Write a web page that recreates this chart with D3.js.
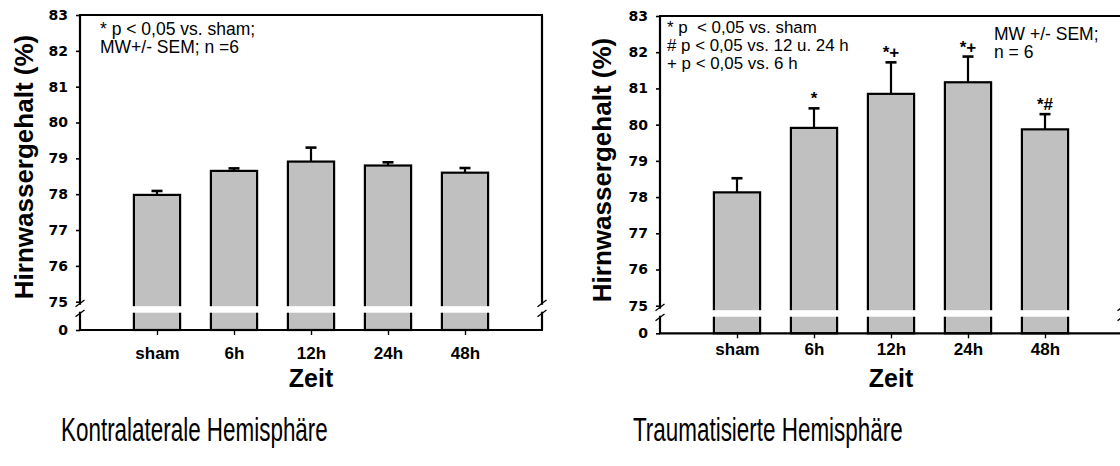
<!DOCTYPE html>
<html><head><meta charset="utf-8">
<script src="https://cdn.jsdelivr.net/npm/d3@7"></script>
<style>
body{margin:0;background:#fff}
svg{display:block}
text{font-family:"Liberation Sans",Arial,sans-serif;fill:#000;white-space:pre}
</style>
</head><body><svg id="c" width="1120" height="466"></svg>
<script>
// ---- data ----
const categories = ["sham", "6h", "12h", "24h", "48h"];
const contraMean = [77.98, 78.65, 78.91, 78.80, 78.60];
const contraSem  = [0.11, 0.07, 0.39, 0.09, 0.13];
const contraSig  = ["", "", "", "", ""];
const traumaMean = [78.13, 79.91, 80.85, 81.17, 79.87];
const traumaSem  = [0.39, 0.54, 0.87, 0.71, 0.42];
const traumaSig  = ["", "*", "*+", "*+", "*#"];
const yTicks = [0, 75, 76, 77, 78, 79, 80, 81, 82, 83];
const yTitle = "Hirnwassergehalt (%)";
const xTitle = "Zeit";
const panelTitles = ["Kontralaterale Hemisphäre", "Traumatisierte Hemisphäre"];
const contraNotes = ["* p < 0,05 vs. sham;", "MW+/- SEM; n =6"];
const traumaNotes = ["* p  < 0,05 vs. sham", "# p < 0,05 vs. 12 u. 24 h", "+ p < 0,05 vs. 6 h"];
const traumaNotes2 = ["MW +/- SEM;", "n = 6"];

const svg = d3.select("#c");

function panel(cfg) {
  const g = svg.append("g");
  const x = d3.scaleLinear().domain([0, categories.length + 1]).range([cfg.x0, cfg.x1]);
  const y = d3.scaleLinear().domain([0, 75, 83]).range([cfg.y0, cfg.y75, cfg.yTop]);
  const bw = (x(1) - x(0)) * 0.6;
  const y75 = y(75);

  // bars
  g.selectAll("rect.bar").data(cfg.mean).enter().append("rect")
    .attr("x", (d, i) => x(i + 1) - bw / 2)
    .attr("y", d => y(d))
    .attr("width", bw)
    .attr("height", d => cfg.y0 - y(d))
    .attr("fill", "#c0c0c0").attr("stroke", "#000").attr("stroke-width", 2.2);

  // error bars (upper only)
  cfg.mean.forEach((m, i) => {
    const cx = x(i + 1), top = y(m + cfg.sem[i]);
    g.append("line").attr("x1", cx).attr("x2", cx).attr("y1", y(m)).attr("y2", top)
      .attr("stroke", "#000").attr("stroke-width", 2.2);
    g.append("line").attr("x1", cx - 5.5).attr("x2", cx + 5.5).attr("y1", top).attr("y2", top)
      .attr("stroke", "#000").attr("stroke-width", 2.6);
    if (cfg.sig[i]) {
      g.append("text").attr("x", cx).attr("y", top - 4).attr("text-anchor", "middle")
        .style("font-size", "17px").style("font-weight", "bold").text(cfg.sig[i]);
    }
  });

  // white break gap through bars
  g.selectAll("rect.gap").data(cfg.mean).enter().append("rect")
    .attr("x", (d, i) => x(i + 1) - bw / 2 - 2)
    .attr("y", y75 + 4.5).attr("width", bw + 4).attr("height", 6.5)
    .attr("fill", "#fff");

  // frame lines
  const ln = (x1, y1, x2, y2, w) => g.append("line").attr("x1", x1).attr("y1", y1)
    .attr("x2", x2).attr("y2", y2).attr("stroke", "#000").attr("stroke-width", w || 2.2);
  ln(cfg.x0 - 1, cfg.yTop, cfg.x1 + 1, cfg.yTop);
  ln(cfg.x0 - 1, cfg.y0, cfg.x1 + 1, cfg.y0);
  [cfg.x0, cfg.x1].forEach(ax => {
    ln(ax, cfg.yTop, ax, y75 + 3);
    ln(ax, y75 + 10, ax, cfg.y0);
    ln(ax - 4.5, y75 + 5, ax + 4.5, y75 - 1.7, 1.3);
    ln(ax - 4.5, y75 + 15, ax + 4.5, y75 + 8.3, 1.3);
  });

  // y axis ticks + labels
  const yAxis = d3.axisLeft(y).tickValues(yTicks).tickSize(4).tickPadding(8).tickFormat(d3.format("d"));
  const ga = g.append("g").attr("transform", `translate(${cfg.x0},0)`).call(yAxis);
  ga.select(".domain").remove();
  ga.selectAll(".tick line").attr("stroke", "#000").attr("stroke-width", 1.6);
  ga.selectAll(".tick text").attr("fill", "#000")
    .style("font-family", "'DejaVu Sans',sans-serif").style("font-size", "14px").style("font-weight", "bold");

  // x axis ticks + labels
  const xAxis = d3.axisBottom(x).tickValues(d3.range(1, categories.length + 1))
    .tickSize(5).tickPadding(cfg.xPad).tickFormat(i => categories[i - 1]);
  const gx = g.append("g").attr("transform", `translate(0,${cfg.y0})`).call(xAxis);
  gx.select(".domain").remove();
  gx.selectAll(".tick line").attr("stroke", "#000").attr("stroke-width", 1.4);
  gx.selectAll(".tick text").attr("fill", "#000")
    .style("font-size", "17px").style("font-weight", "bold");

  // axis titles
  g.append("text").attr("x", x(3)).attr("y", 387).attr("text-anchor", "middle")
    .style("font-size", "25px").style("font-weight", "bold").text(xTitle);
  g.append("text").attr("transform", `translate(${cfg.ytx},${cfg.yty}) rotate(-90)`)
    .attr("text-anchor", "middle").style("font-size", "26px").style("font-weight", "bold").text(yTitle);

  // notes
  cfg.notes.forEach(n => n.lines.forEach((t, k) => {
    g.append("text").attr("x", n.x).attr("y", n.y + k * n.dy).style("font-size", n.fs + "px").text(t);
  }));

  // panel title
  g.append("text").attr("transform", `translate(${cfg.tx},441) scale(0.68,1)`)
    .style("font-size", "33px").text(cfg.title);
}

panel({x0: 80, x1: 542, yTop: 15, y75: 301.7, y0: 330, mean: contraMean, sem: contraSem, sig: contraSig,
  xPad: 12, ytx: 33, yty: 167, title: panelTitles[0], tx: 61,
  notes: [{x: 100, y: 35, dy: 18, fs: 17.5, lines: contraNotes}]});
panel({x0: 660, x1: 1122, yTop: 16, y75: 305.7, y0: 333.3, mean: traumaMean, sem: traumaSem, sig: traumaSig,
  xPad: 5, ytx: 611, yty: 170, title: panelTitles[1], tx: 633,
  notes: [{x: 667, y: 33.3, dy: 17.8, fs: 16.9, lines: traumaNotes}, {x: 994, y: 40, dy: 18, fs: 17.5, lines: traumaNotes2}]});
</script>
</body></html>
